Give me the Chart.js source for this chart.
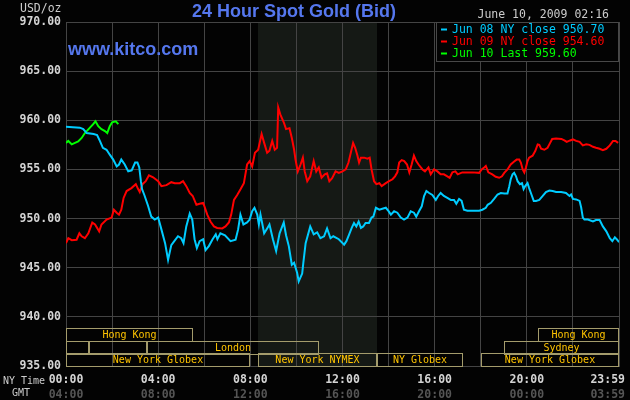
<!DOCTYPE html>
<html>
<head>
<meta charset="utf-8">
<title>24 Hour Spot Gold (Bid)</title>
<script src="https://cdn.jsdelivr.net/npm/chart.js@4.4.0/dist/chart.umd.min.js"></script>
<style>
  html, body { margin: 0; padding: 0; background: #000; }
  canvas { display: block; }
</style>
</head>
<body>
<canvas id="goldChart" width="630" height="400"></canvas>
<script>
// NY time in decimal hours, bid in USD/oz
var jun08Hours = [0.00, 0.30, 0.60, 0.75, 0.90, 1.20, 1.35, 1.47, 1.60, 1.76, 1.90, 2.05, 2.20, 2.30, 2.40, 2.55, 2.70, 2.85, 3.00, 3.10, 3.18, 3.25, 3.30, 3.40, 3.56, 3.70, 3.85, 4.00, 4.14, 4.30, 4.43, 4.57, 4.70, 4.86, 5.00, 5.10, 5.22, 5.37, 5.48, 5.58, 5.68, 5.80, 5.95, 6.06, 6.20, 6.35, 6.50, 6.57, 6.70, 6.90, 7.14, 7.36, 7.47, 7.57, 7.70, 7.86, 7.97, 8.08, 8.18, 8.30, 8.37, 8.44, 8.60, 8.73, 8.83, 8.98, 9.12, 9.27, 9.45, 9.55, 9.67, 9.80, 9.90, 10.03, 10.10, 10.25, 10.30, 10.40, 10.60, 10.75, 10.90, 11.04, 11.20, 11.33, 11.48, 11.60, 11.84, 12.07, 12.17, 12.29, 12.40, 12.50, 12.60, 12.70, 12.80, 12.90, 13.00, 13.15, 13.26, 13.34, 13.45, 13.60, 13.73, 13.88, 14.00, 14.10, 14.24, 14.38, 14.53, 14.67, 14.82, 14.96, 15.10, 15.20, 15.32, 15.44, 15.54, 15.64, 15.76, 15.90, 16.05, 16.15, 16.26, 16.40, 16.55, 16.70, 16.84, 16.94, 17.06, 17.17, 17.27, 17.42, 17.64, 17.93, 18.07, 18.22, 18.30, 18.44, 18.58, 18.73, 18.87, 19.02, 19.16, 19.24, 19.30, 19.38, 19.45, 19.53, 19.60, 19.70, 19.79, 19.86, 19.93, 20.03, 20.10, 20.20, 20.30, 20.40, 20.54, 20.69, 20.83, 20.98, 21.12, 21.27, 21.49, 21.70, 21.85, 21.92, 22.00, 22.14, 22.29, 22.36, 22.43, 22.50, 22.65, 22.87, 23.00, 23.16, 23.30, 23.45, 23.60, 23.71, 23.82, 23.92, 24.00];
var jun08Prices = [959.35, 959.3, 959.25, 959.1, 958.7, 958.6, 958.5, 957.9, 957.2, 957.0, 956.5, 956.0, 955.3, 955.5, 956.0, 955.5, 954.8, 954.9, 955.7, 955.7, 955.2, 953.8, 953.0, 952.4, 951.3, 950.2, 949.9, 950.1, 948.9, 947.5, 945.8, 947.3, 947.7, 948.2, 948.0, 947.5, 949.2, 950.5, 949.9, 947.9, 947.0, 947.7, 947.9, 946.8, 947.2, 947.85, 948.4, 947.9, 948.5, 948.3, 947.7, 947.85, 948.9, 950.4, 949.4, 949.6, 949.9, 950.75, 951.1, 950.4, 949.4, 950.4, 948.5, 949.0, 949.4, 947.9, 946.7, 948.5, 949.6, 948.3, 947.2, 945.3, 945.5, 944.5, 943.6, 944.4, 945.5, 947.5, 949.2, 948.4, 948.6, 948.0, 948.2, 949.0, 948.0, 948.2, 947.9, 947.35, 947.7, 948.4, 949.05, 949.55, 949.2, 949.7, 949.05, 949.2, 949.55, 949.55, 950.1, 950.2, 951.1, 950.9, 951.0, 951.1, 950.75, 950.4, 950.75, 950.6, 950.1, 949.9, 950.1, 950.75, 950.6, 950.2, 950.75, 951.25, 952.3, 952.8, 952.6, 952.4, 951.9, 952.3, 952.6, 952.3, 952.1, 951.9, 951.9, 951.5, 952.0, 951.8, 950.9, 950.8, 950.8, 950.8, 950.9, 951.1, 951.4, 951.6, 952.0, 952.45, 952.6, 952.55, 952.55, 953.3, 954.0, 954.5, 954.65, 954.3, 953.8, 953.5, 953.6, 953.0, 953.3, 953.6, 953.1, 952.45, 951.8, 951.8, 951.9, 952.3, 952.7, 952.85, 952.8, 952.7, 952.7, 952.6, 952.3, 952.45, 952.0, 951.95, 951.8, 951.1, 950.1, 949.9, 949.9, 949.7, 949.85, 949.85, 949.2, 948.7, 948.0, 947.7, 948.1, 947.85, 947.6];

var jun09Hours = [0.00, 0.10, 0.25, 0.46, 0.58, 0.68, 0.82, 0.97, 1.14, 1.26, 1.44, 1.54, 1.76, 1.98, 2.08, 2.20, 2.30, 2.40, 2.50, 2.63, 2.84, 3.03, 3.13, 3.20, 3.32, 3.46, 3.60, 3.78, 4.00, 4.14, 4.36, 4.57, 4.72, 4.94, 5.08, 5.22, 5.37, 5.50, 5.66, 5.80, 5.95, 6.00, 6.13, 6.27, 6.42, 6.56, 6.78, 6.92, 7.07, 7.17, 7.29, 7.43, 7.58, 7.72, 7.86, 7.97, 8.08, 8.20, 8.34, 8.49, 8.60, 8.73, 8.83, 8.95, 9.06, 9.16, 9.21, 9.30, 9.45, 9.55, 9.70, 9.80, 9.90, 9.96, 10.06, 10.18, 10.28, 10.36, 10.47, 10.60, 10.75, 10.86, 10.97, 11.09, 11.23, 11.33, 11.43, 11.55, 11.70, 11.84, 12.00, 12.14, 12.26, 12.36, 12.46, 12.55, 12.65, 12.72, 12.80, 12.94, 13.08, 13.18, 13.26, 13.37, 13.47, 13.60, 13.70, 13.88, 14.02, 14.17, 14.28, 14.38, 14.46, 14.57, 14.68, 14.80, 14.90, 15.00, 15.10, 15.20, 15.30, 15.47, 15.58, 15.73, 15.83, 15.97, 16.12, 16.26, 16.40, 16.55, 16.65, 16.77, 16.90, 17.00, 17.20, 17.64, 17.93, 18.04, 18.15, 18.22, 18.33, 18.50, 18.65, 18.80, 18.92, 19.02, 19.16, 19.30, 19.45, 19.56, 19.67, 19.74, 19.82, 19.89, 19.96, 20.03, 20.10, 20.25, 20.37, 20.47, 20.54, 20.62, 20.76, 20.90, 21.00, 21.10, 21.27, 21.50, 21.63, 21.73, 21.88, 22.00, 22.14, 22.29, 22.43, 22.58, 22.72, 22.87, 23.00, 23.16, 23.30, 23.45, 23.60, 23.74, 23.85, 23.96];
var jun09Prices = [947.5, 948.0, 947.8, 947.85, 948.5, 948.2, 948.0, 948.5, 949.6, 949.4, 948.7, 949.4, 949.9, 950.1, 950.9, 950.6, 950.4, 950.9, 952.1, 952.8, 953.1, 953.5, 953.0, 952.7, 953.5, 953.8, 954.4, 954.2, 953.8, 953.3, 953.4, 953.7, 953.6, 953.6, 953.8, 953.3, 952.6, 952.3, 951.4, 951.5, 951.6, 951.3, 950.4, 949.7, 949.2, 949.05, 949.0, 949.2, 949.6, 950.4, 951.9, 952.4, 953.0, 953.6, 955.5, 955.85, 955.3, 956.7, 957.0, 958.6, 957.7, 956.7, 956.9, 957.9, 957.0, 957.2, 961.3, 960.6, 959.8, 959.1, 959.2, 958.2, 957.0, 956.0, 954.8, 955.5, 956.2, 954.8, 953.8, 954.3, 955.85, 954.8, 955.2, 954.15, 954.5, 954.6, 953.8, 954.1, 954.8, 954.65, 954.8, 955.0, 955.7, 956.7, 957.7, 957.2, 956.4, 955.7, 956.2, 956.2, 956.1, 956.2, 955.0, 953.8, 953.5, 953.6, 953.3, 953.6, 953.8, 954.0, 954.3, 954.7, 955.7, 955.95, 955.85, 955.5, 954.7, 955.5, 956.4, 955.85, 955.5, 955.0, 954.8, 955.2, 954.5, 955.0, 954.8, 954.5, 954.5, 954.3, 954.15, 954.7, 954.8, 954.5, 954.7, 954.7, 954.65, 955.0, 955.2, 955.35, 954.7, 954.5, 954.25, 954.15, 954.3, 954.65, 955.0, 955.5, 955.8, 956.0, 956.0, 955.7, 955.0, 954.7, 955.2, 955.85, 956.2, 956.4, 956.9, 957.55, 957.5, 957.1, 957.0, 957.2, 957.65, 958.1, 958.15, 958.1, 957.95, 957.8, 957.95, 958.05, 957.9, 957.8, 957.45, 957.55, 957.5, 957.3, 957.2, 957.1, 956.95, 957.1, 957.45, 957.9, 957.9, 957.7];

var jun10Hours = [0.00, 0.10, 0.25, 0.39, 0.53, 0.68, 0.82, 1.04, 1.18, 1.28, 1.40, 1.54, 1.69, 1.79, 1.90, 2.00, 2.16, 2.27];
var jun10Prices = [957.7, 957.9, 957.55, 957.7, 957.85, 958.2, 958.7, 959.25, 959.6, 959.9, 959.4, 959.1, 958.9, 958.7, 959.4, 959.8, 959.9, 959.6];

var legendLabels = ["Jun 08 NY close 950.70", "Jun 09 NY close 954.60", "Jun 10 Last 959.60"];
var seriesColors = ['#00ccff', '#ff0000', '#00ff00'];

var hourTicks = [0, 4, 8, 12, 16, 20, 24];
var nyTimeLabels = ["00:00", "04:00", "08:00", "12:00", "16:00", "20:00", "23:59"];
var gmtTimeLabels = ["04:00", "08:00", "12:00", "16:00", "20:00", "00:00", "03:59"];

// trading sessions strip (row 0 = top)
var sessionNames = ["Hong Kong", "Hong Kong", "", "", "London", "Sydney", "New York Globex", "New York NYMEX", "NY Globex", "New York Globex"];
var sessionStart = [0, 20.5, 0, 1, 3.5, 19, 0, 8.33, 13.5, 18];
var sessionEnd = [5.5, 24, 1, 3.5, 11, 24, 8, 13.5, 17.25, 24];
var sessionRow = [0, 0, 1, 1, 1, 1, 2, 2, 2, 2];
var pitStart = 8.33, pitEnd = 13.5;

function toPoints(hours, prices) {
     return hours.map(function(h, i) { return { x: h, y: prices[i] }; });
}

var mono = '"DejaVu Sans Mono", monospace';

var kitcoDecor = {
     id: 'kitcoDecor',
     beforeDraw: function(chart) {
          var ctx = chart.ctx, area = chart.chartArea, xs = chart.scales.x;
          ctx.save();
          ctx.fillStyle = '#030303';
          ctx.fillRect(0, 0, chart.width, chart.height);
          // NYMEX pit hours shading
          var p0 = xs.getPixelForValue(pitStart), p1 = xs.getPixelForValue(pitEnd);
          ctx.fillStyle = '#151915';
          ctx.fillRect(p0, area.top, p1 - p0, area.bottom - area.top);
          ctx.restore();
     },
     afterDatasetsDraw: function(chart) {
          var ctx = chart.ctx, area = chart.chartArea, xs = chart.scales.x;
          ctx.save();

          // session boxes
          var rowH = 12.7;
          ctx.lineWidth = 1;
          ctx.strokeStyle = '#a49c6c';
          ctx.fillStyle = '#ffc400';
          ctx.font = '10px ' + mono;
          ctx.textAlign = 'center';
          ctx.textBaseline = 'middle';
          for (var i = 0; i < sessionNames.length; i++) {
               var top = Math.round(area.bottom - (3 - sessionRow[i]) * rowH) + 0.5;
               var left = Math.round(xs.getPixelForValue(sessionStart[i])) + 0.5;
               var right = Math.round(xs.getPixelForValue(sessionEnd[i])) - 0.5;
               ctx.strokeRect(left, top, right - left, Math.round(rowH));
               if (sessionNames[i]) {
                    ctx.fillText(sessionNames[i], (left + right) / 2, top + rowH / 2 + 0.5);
               }
          }

          // legend box
          var lx = area.right - 183, ly = area.top, lh = 39;
          ctx.fillStyle = '#030303';
          ctx.fillRect(lx, ly, area.right - lx, lh);
          ctx.strokeStyle = '#484848';
          ctx.strokeRect(lx + 0.5, ly + 0.5, area.right - lx - 1, lh);
          ctx.font = '11.5px ' + mono;
          ctx.textAlign = 'left';
          for (var j = 0; j < legendLabels.length; j++) {
               var cy = ly + 7.5 + j * 12;
               ctx.fillStyle = seriesColors[j];
               ctx.fillRect(lx + 5, cy - 1, 6, 2);
               ctx.fillText(legendLabels[j], lx + 16, cy + 0.5);
          }
          ctx.restore();
     },
     afterDraw: function(chart) {
          var ctx = chart.ctx, area = chart.chartArea, xs = chart.scales.x;
          ctx.save();
          ctx.textBaseline = 'alphabetic';

          ctx.fillStyle = '#5577ee';
          ctx.font = 'bold 18px "Liberation Sans", Arial, sans-serif';
          ctx.textAlign = 'center';
          ctx.fillText('24 Hour Spot Gold (Bid)', 294, 17);
          ctx.textAlign = 'left';
          ctx.fillText('www.kitco.com', 68, 55);

          ctx.fillStyle = '#cccccc';
          ctx.font = '11.5px ' + mono;
          ctx.fillText('USD/oz', 20, 12);
          ctx.textAlign = 'right';
          ctx.fillText('June 10, 2009 02:16', 609, 18);

          // time axis, NY time and GMT rows
          ctx.font = 'bold 11.5px ' + mono;
          for (var i = 0; i < hourTicks.length; i++) {
               var px = xs.getPixelForValue(hourTicks[i]);
               var last = i === hourTicks.length - 1;
               ctx.textAlign = last ? 'right' : 'center';
               if (last) px += 6;
               ctx.fillStyle = '#d4d4d4';
               ctx.fillText(nyTimeLabels[i], px, area.bottom + 17);
               ctx.fillStyle = '#555555';
               ctx.fillText(gmtTimeLabels[i], px, area.bottom + 32);
          }
          ctx.font = '10px ' + mono;
          ctx.textAlign = 'left';
          ctx.fillStyle = '#cccccc';
          ctx.fillText('NY Time', 3, area.bottom + 18);
          ctx.fillText('GMT', 12, area.bottom + 30);
          ctx.restore();
     }
};

new Chart('goldChart', {
     type: 'line',
     data: {
          datasets: [
               {
                    label: legendLabels[0],
                    data: toPoints(jun08Hours, jun08Prices),
                    borderColor: seriesColors[0],
                    borderWidth: 2,
                    pointRadius: 0,
                    tension: 0,
                    fill: false
               },
               {
                    label: legendLabels[1],
                    data: toPoints(jun09Hours, jun09Prices),
                    borderColor: seriesColors[1],
                    borderWidth: 2,
                    pointRadius: 0,
                    tension: 0,
                    fill: false
               },
               {
                    label: legendLabels[2],
                    data: toPoints(jun10Hours, jun10Prices),
                    borderColor: seriesColors[2],
                    borderWidth: 2,
                    pointRadius: 0,
                    tension: 0,
                    fill: false
               }
          ]
     },
     options: {
          responsive: false,
          animation: false,
          layout: {
               padding: { top: 22, right: 11, left: 0, bottom: 0 }
          },
          plugins: {
               legend: { display: false },
               tooltip: { enabled: false },
               title: { display: false }
          },
          scales: {
               x: {
                    type: 'linear',
                    min: 0,
                    max: 24,
                    ticks: { display: false, stepSize: 2 },
                    grid: { color: '#444444', drawTicks: false },
                    border: { color: '#444444' },
                    afterFit: function(scale) { scale.height = 34; }
               },
               y: {
                    min: 935,
                    max: 970,
                    ticks: {
                         stepSize: 5,
                         padding: 5,
                         color: '#d4d4d4',
                         font: { family: 'DejaVu Sans Mono', size: 11.5, weight: 'bold' },
                         callback: function(v) { return v.toFixed(2); }
                    },
                    grid: { color: '#444444', drawTicks: false },
                    border: { color: '#444444' },
                    afterFit: function(scale) { scale.width = 66; }
               }
          }
     },
     plugins: [kitcoDecor]
});
</script>
</body>
</html>
